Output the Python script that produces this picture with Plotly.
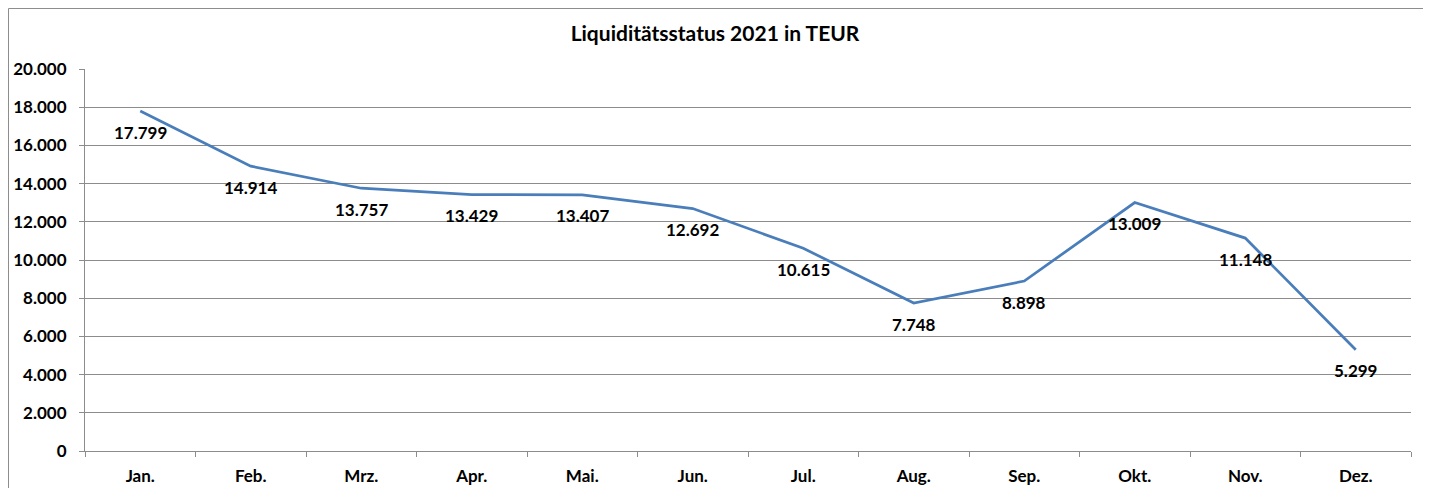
import plotly.graph_objects as go

months = ["Jan.", "Feb.", "Mrz.", "Apr.", "Mai.", "Jun.", "Jul.", "Aug.", "Sep.", "Okt.", "Nov.", "Dez."]
values = [17799, 14914, 13757, 13429, 13407, 12692, 10615, 7748, 8898, 13009, 11148, 5299]
labels = ["17.799", "14.914", "13.757", "13.429", "13.407", "12.692", "10.615", "7.748", "8.898", "13.009", "11.148", "5.299"]
y_ticks = [0, 2000, 4000, 6000, 8000, 10000, 12000, 14000, 16000, 18000, 20000]
y_tick_text = ["0", "2.000", "4.000", "6.000", "8.000", "10.000", "12.000", "14.000", "16.000", "18.000", "20.000"]

FONT = "Lato"
GRID = "#8c8c8c"

fig = go.Figure()
fig.add_trace(go.Scatter(x=months, y=values, mode="lines",
                         line=dict(color="#4A7EBB", width=2.75), hoverinfo="skip"))

for m, v, t in zip(months, values, labels):
    fig.add_annotation(x=m, y=v, text="<b>%s</b>" % t, showarrow=False,
                       yshift=-21, font=dict(family=FONT, size=17, color="#000"))

# outer chart border
fig.add_shape(type="rect", xref="paper", yref="paper",
              x0=-0.0577, x1=1.0098, y0=-0.2, y1=1.1584,
              line=dict(color=GRID, width=1), fillcolor="rgba(0,0,0,0)", layer="below")

fig.update_layout(
    width=1431, height=488,
    margin=dict(l=77, r=28, t=61, b=45, autoexpand=False),
    paper_bgcolor="white", plot_bgcolor="white",
    showlegend=False,
    title=dict(text="<b>Liquiditätsstatus 2021 in TEUR</b>", x=(715 - 8) / 1431, xanchor="center",
               y=1 - 26 / 488, yanchor="middle",
               font=dict(family=FONT, size=21, color="#000")),
    font=dict(family=FONT, color="#000"),
    xaxis=dict(type="category", range=[-0.5, 11.5], tickson="boundaries", ticks="outside", ticklen=5,
               tickcolor=GRID, showline=True, linecolor=GRID, linewidth=1,
               showgrid=False, tickfont=dict(family=FONT, size=17, color="#000"),
               tickprefix="<b>", ticksuffix="</b>", ticklabelstandoff=10, automargin=False),
    yaxis=dict(range=[0, 20000], tickvals=y_ticks, ticktext=["<b>%s</b>" % s for s in y_tick_text],
               ticks="outside", ticklen=5, tickcolor=GRID,
               showline=True, linecolor=GRID, linewidth=1,
               showgrid=True, gridcolor=GRID, gridwidth=1, zeroline=False,
               ticklabelstandoff=9, automargin=False,
               tickfont=dict(family=FONT, size=17, color="#000")),
)

fig.write_html("out.html")
